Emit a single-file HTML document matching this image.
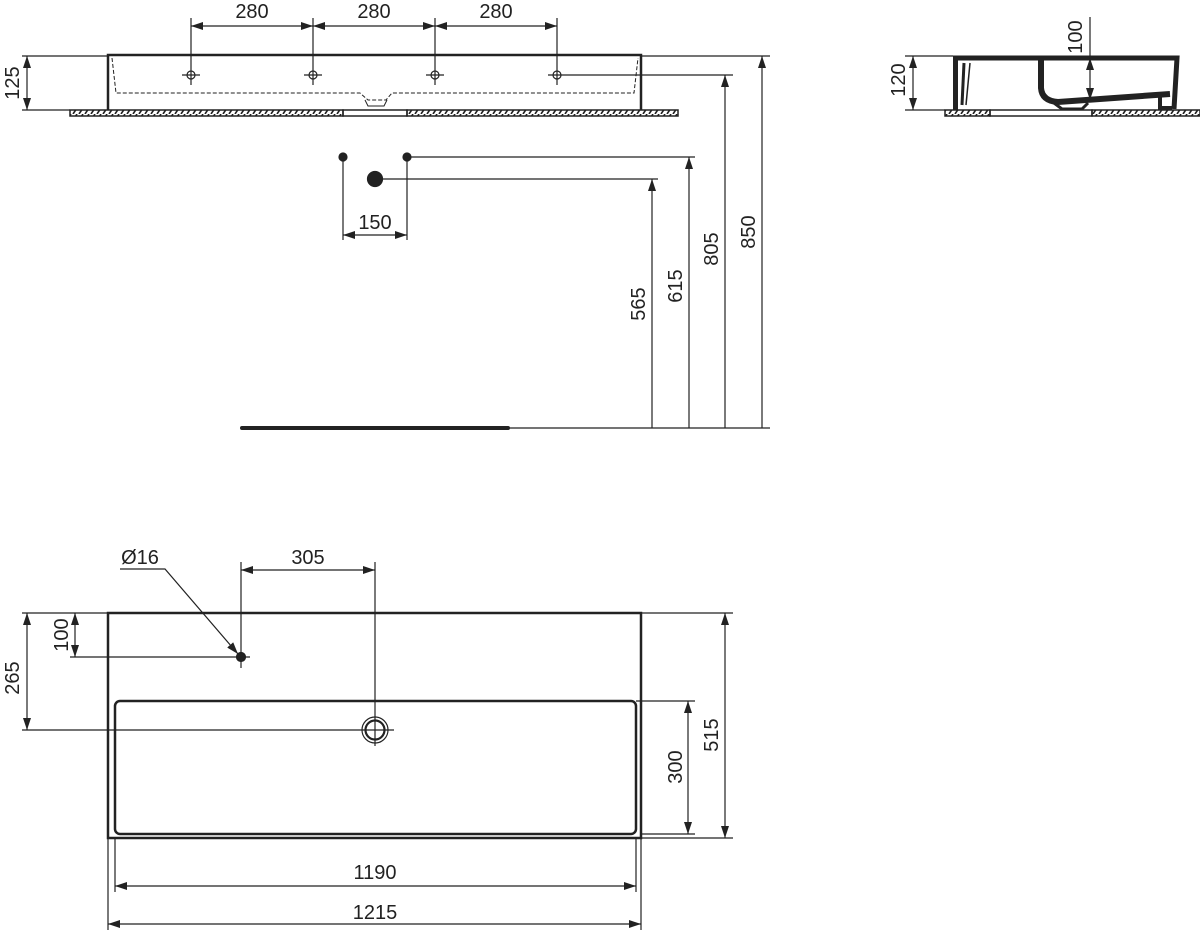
<!DOCTYPE html>
<html><head><meta charset="utf-8"><style>
html,body{margin:0;padding:0;background:#fff;}
svg{display:block;}
text{font-family:"Liberation Sans",Arial,sans-serif;font-size:20px;fill:#222;}
</style></head><body>
<svg width="1200" height="932" viewBox="0 0 1200 932" xmlns="http://www.w3.org/2000/svg">
<defs>
<marker id="a" viewBox="0 0 12 8" refX="12" refY="4" markerWidth="12" markerHeight="8" orient="auto-start-reverse" markerUnits="userSpaceOnUse"><path d="M0,0 L12,4 L0,8 Z" fill="#222"/></marker>
<pattern id="h" width="6" height="6" patternUnits="userSpaceOnUse"><rect width="6" height="6" fill="#fff"/><path d="M1,6 L5,0" stroke="#222" stroke-width="1.6"/></pattern>
</defs>
<g stroke="#222" fill="none" stroke-width="1.2">
<!-- TOP VIEW -->
<rect x="70" y="110" width="273" height="6" fill="url(#h)" stroke-width="1.5"/>
<rect x="407" y="110" width="271" height="6" fill="url(#h)" stroke-width="1.5"/>
<rect x="343" y="110" width="64" height="6" stroke-width="1.5"/>
<path d="M108,110 V55 H641 V110" stroke-width="2.5"/>
<path d="M112,58 L116,93 H360 L368,100 H386 L392,93 H634 L638,58" stroke-dasharray="4,2" stroke-width="1"/>
<path d="M365,100 L368,106 H384 L387,100" stroke-width="1"/>
<g stroke-width="1.2">
<line x1="191" y1="18" x2="191" y2="85"/><line x1="313" y1="18" x2="313" y2="85"/><line x1="435" y1="18" x2="435" y2="85"/><line x1="557" y1="18" x2="557" y2="85"/>
<circle cx="191" cy="75" r="4"/><circle cx="313" cy="75" r="4"/><circle cx="435" cy="75" r="4"/><circle cx="557" cy="75" r="4"/>
<line x1="182" y1="75" x2="200" y2="75"/><line x1="304" y1="75" x2="322" y2="75"/><line x1="426" y1="75" x2="444" y2="75"/><line x1="548" y1="75" x2="733" y2="75"/>
<line x1="191" y1="26" x2="313" y2="26" marker-start="url(#a)" marker-end="url(#a)"/>
<line x1="313" y1="26" x2="435" y2="26" marker-start="url(#a)" marker-end="url(#a)"/>
<line x1="435" y1="26" x2="557" y2="26" marker-start="url(#a)" marker-end="url(#a)"/>
<line x1="22" y1="56" x2="108" y2="56"/><line x1="22" y1="110" x2="70" y2="110"/>
<line x1="27" y1="56" x2="27" y2="110" marker-start="url(#a)" marker-end="url(#a)"/>
<line x1="641" y1="56" x2="770" y2="56"/>
</g>
<!-- fittings -->
<circle cx="343" cy="157" r="4" fill="#222"/><circle cx="407" cy="157" r="4" fill="#222"/><circle cx="375" cy="179" r="7.5" fill="#222"/>
<line x1="343" y1="157" x2="343" y2="240"/><line x1="407" y1="157" x2="407" y2="240"/>
<line x1="407" y1="157" x2="695" y2="157"/><line x1="375" y1="179" x2="658" y2="179"/>
<line x1="343" y1="235" x2="407" y2="235" marker-start="url(#a)" marker-end="url(#a)"/>
<line x1="242" y1="428" x2="508" y2="428" stroke-width="4" stroke-linecap="round"/>
<line x1="508" y1="428" x2="770" y2="428"/>
<line x1="652" y1="428" x2="652" y2="179" marker-end="url(#a)"/>
<line x1="689" y1="428" x2="689" y2="157" marker-end="url(#a)"/>
<line x1="725" y1="428" x2="725" y2="75" marker-end="url(#a)"/>
<line x1="762" y1="428" x2="762" y2="56" marker-end="url(#a)"/>
<!-- SIDE VIEW -->
<rect x="945" y="110" width="45" height="6" fill="url(#h)" stroke-width="1.5"/>
<rect x="1092" y="110" width="108" height="6" fill="url(#h)" stroke-width="1.5"/>
<rect x="990" y="110" width="102" height="6" stroke-width="1.5"/>
<line x1="905" y1="56" x2="953" y2="56"/><line x1="905" y1="110" x2="945" y2="110"/>
<line x1="913" y1="56" x2="913" y2="110" marker-start="url(#a)" marker-end="url(#a)"/>
<path d="M955.5,110 V58 H1177 L1174,109" stroke-width="5"/>
<path d="M964,63 L962,105" stroke-width="3"/>
<path d="M970,63 L966,105" stroke-width="1.5"/>
<path d="M1041,59 V88 Q1042,101 1058,102 L1170,94" stroke-width="6"/>
<path d="M1054,103 L1062,109 H1082 L1088,103" stroke-width="3"/>
<path d="M1160,97 V108 H1172" stroke-width="4"/>
<line x1="1090" y1="17" x2="1090" y2="58"/>
<line x1="1090" y1="58" x2="1090" y2="100" marker-start="url(#a)" marker-end="url(#a)"/>
<!-- PLAN VIEW -->
<rect x="108" y="613" width="533" height="225" stroke-width="2.5"/>
<rect x="115" y="701" width="521" height="133" rx="5" stroke-width="2.5"/>
<circle cx="241" cy="657" r="4.5" fill="#222"/>
<circle cx="375" cy="730" r="13"/><circle cx="375" cy="730" r="9.5" stroke-width="2.2"/>
<line x1="241" y1="562" x2="241" y2="668"/><line x1="375" y1="562" x2="375" y2="746"/>
<line x1="241" y1="570" x2="375" y2="570" marker-start="url(#a)" marker-end="url(#a)"/>
<polyline points="120,569 165,569 238,654" marker-end="url(#a)"/>
<line x1="22" y1="613" x2="108" y2="613"/><line x1="70" y1="657" x2="250" y2="657"/><line x1="22" y1="730" x2="394" y2="730"/>
<line x1="27" y1="613" x2="27" y2="730" marker-start="url(#a)" marker-end="url(#a)"/>
<line x1="75" y1="613" x2="75" y2="657" marker-start="url(#a)" marker-end="url(#a)"/>
<line x1="641" y1="613" x2="733" y2="613"/><line x1="636" y1="701" x2="695" y2="701"/><line x1="641" y1="834" x2="695" y2="834"/><line x1="641" y1="838" x2="733" y2="838"/>
<line x1="725" y1="613" x2="725" y2="838" marker-start="url(#a)" marker-end="url(#a)"/>
<line x1="688" y1="701" x2="688" y2="834" marker-start="url(#a)" marker-end="url(#a)"/>
<line x1="115" y1="838" x2="115" y2="892"/><line x1="636" y1="838" x2="636" y2="892"/>
<line x1="108" y1="838" x2="108" y2="930"/><line x1="641" y1="838" x2="641" y2="930"/>
<line x1="115" y1="886" x2="636" y2="886" marker-start="url(#a)" marker-end="url(#a)"/>
<line x1="108" y1="924" x2="641" y2="924" marker-start="url(#a)" marker-end="url(#a)"/>
</g>
<g text-anchor="middle">
<text x="252" y="18">280</text><text x="374" y="18">280</text><text x="496" y="18">280</text>
<text x="375" y="229">150</text>
<text x="308" y="564">305</text>
<text x="140" y="564">Ø16</text>
<text x="375" y="879">1190</text>
<text x="375" y="919">1215</text>
<text transform="translate(19,83) rotate(-90)">125</text>
<text transform="translate(645,304) rotate(-90)">565</text>
<text transform="translate(682,286) rotate(-90)">615</text>
<text transform="translate(718,249) rotate(-90)">805</text>
<text transform="translate(755,232) rotate(-90)">850</text>
<text transform="translate(905,80) rotate(-90)">120</text>
<text transform="translate(1082,37) rotate(-90)">100</text>
<text transform="translate(19,678) rotate(-90)">265</text>
<text transform="translate(68,635) rotate(-90)">100</text>
<text transform="translate(682,767) rotate(-90)">300</text>
<text transform="translate(718,735) rotate(-90)">515</text>
</g>
</svg>
</body></html>
